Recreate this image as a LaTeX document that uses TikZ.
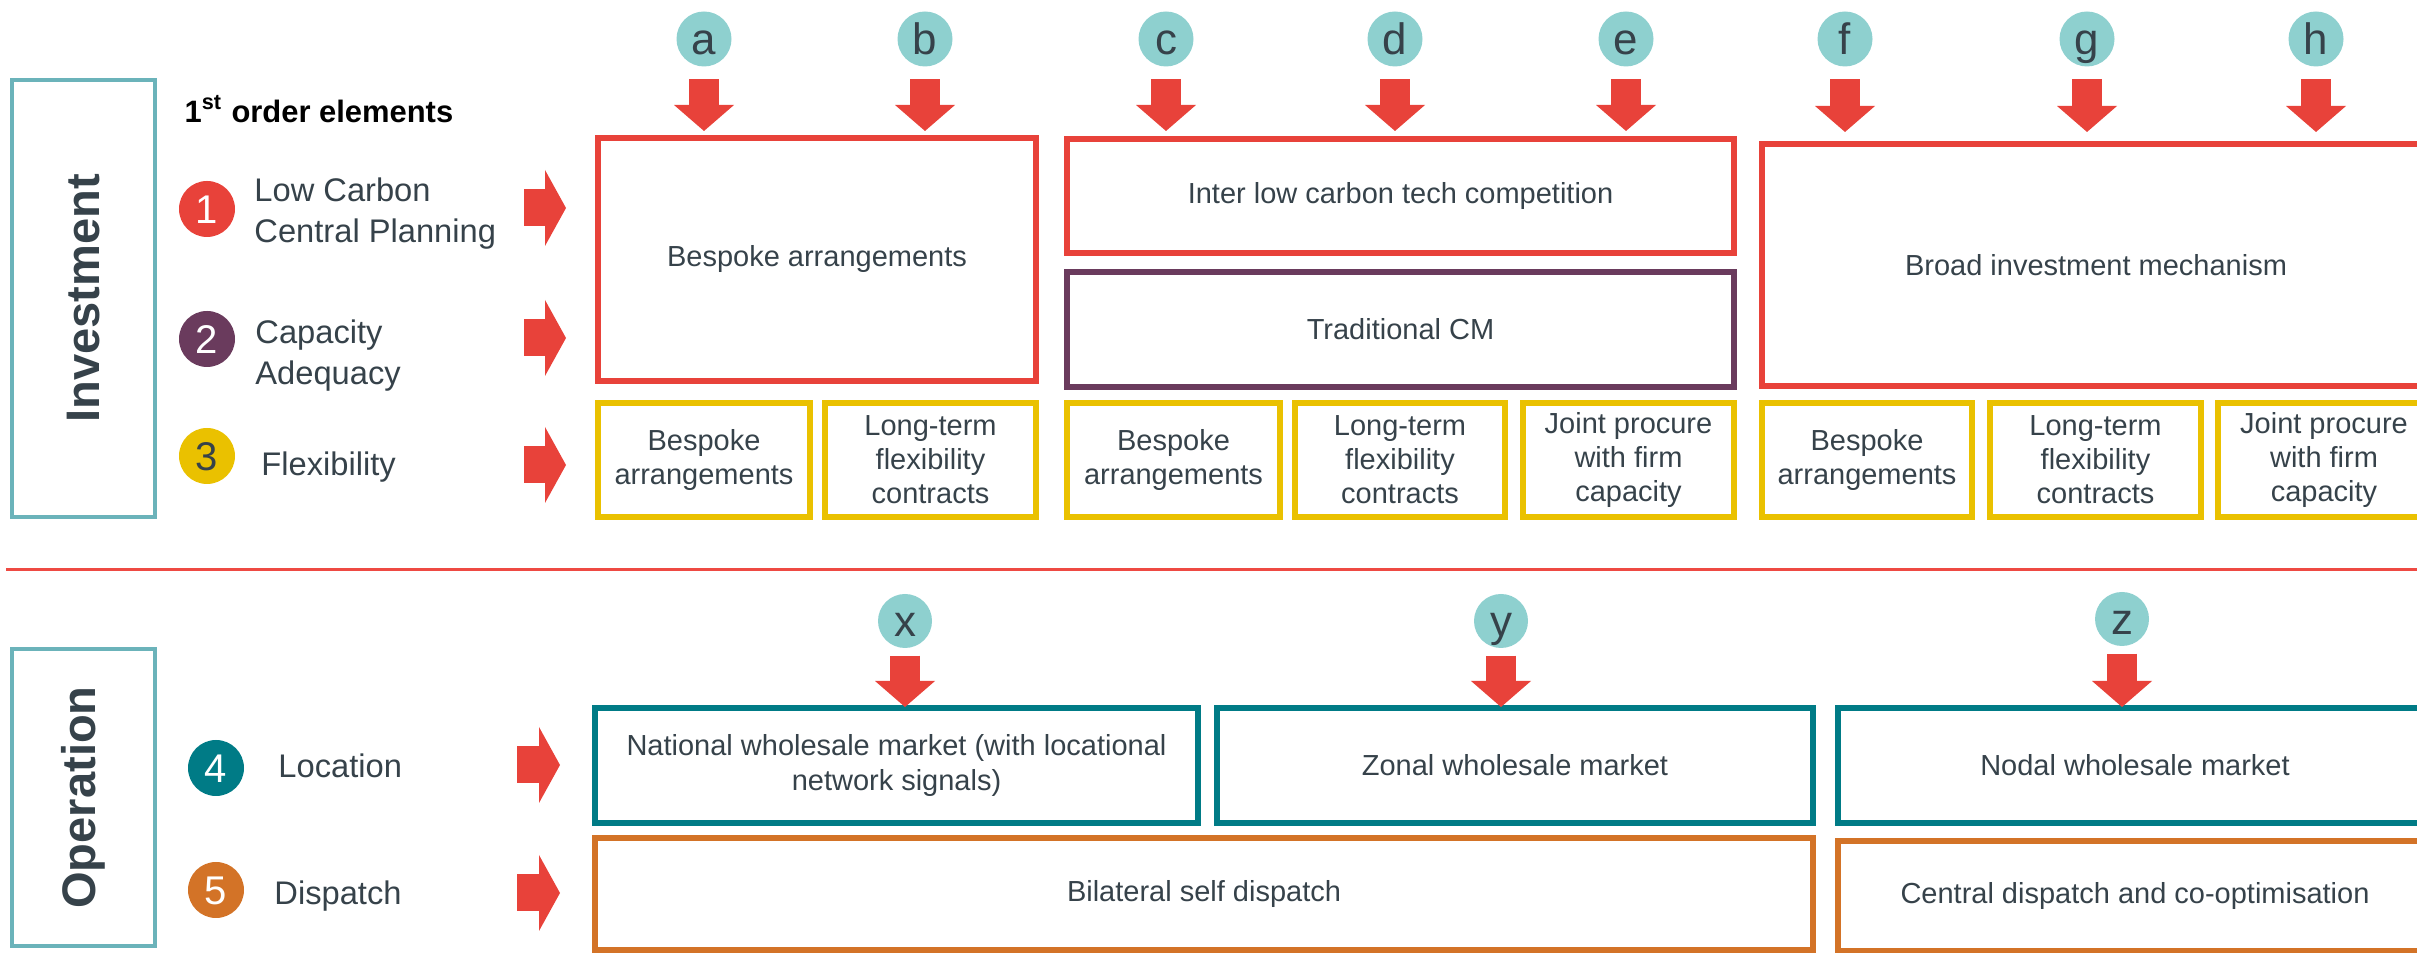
\documentclass[tikz,border=0pt]{standalone}
\usepackage{fontspec}
\setmainfont{Liberation Sans}
\usetikzlibrary{arrows.meta,positioning}

\definecolor{optred}{HTML}{E8423A}
\definecolor{optline}{HTML}{EE4A43}
\definecolor{optteal}{HTML}{6BB3BA}
\definecolor{optcyan}{HTML}{8ED0CF}
\definecolor{optplum}{HTML}{6A3B5D}
\definecolor{optgold}{HTML}{EAC100}
\definecolor{optpetrol}{HTML}{007B86}
\definecolor{optrust}{HTML}{D37327}
\definecolor{optink}{HTML}{36424A}

\begin{document}
\begin{tikzpicture}[
  x=0.1mm, y=-0.1mm,
  font=\fontsize{8.25}{9.7}\selectfont,
  text=optink,
  node distance=1.5mm,
  % option boxes
  cellbox/.style={draw, line width=0.55mm, align=center,
    inner sep=0pt, outer sep=0pt},
  redbox/.style={cellbox, draw=optred},
  cmbox/.style={cellbox, draw=optplum},
  flexbox/.style={cellbox, draw=optgold, minimum height=11.4mm},
  locbox/.style={cellbox, draw=optpetrol, minimum height=11.5mm},
  dispbox/.style={cellbox, draw=optrust},
  sectbox/.style={draw=optteal, line width=0.45mm, rotate=90,
    minimum height=14.3mm, inner sep=0pt,
    font=\bfseries\fontsize{13.4}{13.4}\selectfont},
  % markers and labels
  letter/.style={circle, fill=optcyan, minimum size=5.5mm, inner sep=0pt,
    text height=3.1mm, text depth=0pt,
    font=\fontsize{12.5}{12.5}\selectfont},
  numdot/.style={circle, minimum size=5.6mm, inner sep=0pt, text=white,
    text height=2.9mm, text depth=0pt,
    font=\fontsize{11.4}{11.4}\selectfont},
  element/.style={align=left, inner sep=0pt,
    font=\fontsize{9.3}{11.7}\selectfont},
  % block arrows
  downarrow/.style={optred, line width=3mm,
    -{Triangle[length=2.6mm, width=6mm, line width=0pt]},
    shorten <=1.2mm},
  sidearrow/.style={optred, line width=3.7mm,
    -{Triangle[length=2.1mm, width=7.6mm, line width=0pt]}},
  sepline/.style={optline, line width=0.33mm}
]
\useasboundingbox (0,0) rectangle (2417,953);
\clip (0,0) rectangle (2417,953);

% Section frames
\node[sectbox, minimum width=43.7mm] (inv) at (83.5,298.5) {Investment};
\node[sectbox, minimum width=29.7mm] (ops) at (83.5,797.5) {Operation};

\node[anchor=base west, inner sep=0pt, text=black,
  font=\bfseries\fontsize{8.8}{8.8}\selectfont] (order) at (184,123)
  {1\textsuperscript{st} order elements};

% First order elements
\node[numdot, fill=optred] (n1) at (207,209) {1};
\node[numdot, fill=optplum] (n2) at (207,339) {2};
\node[numdot, fill=optgold, text=optink] (n3) at (207,456) {3};
\node[numdot, fill=optpetrol] (n4) at (216,768) {4};
\node[numdot, fill=optrust] (n5) at (216,890) {5};

\node[element, right=1.8mm of n1, yshift=-0.5mm] (lowc) {Low Carbon\\Central Planning};
\node[element, right=1.9mm of n2, yshift=-1.7mm] (capa) {Capacity\\Adequacy};
\node[element, right=2.5mm of n3, yshift=-1.1mm] (flex) {Flexibility};
\node[element, right=3.3mm of n4, yshift=0.2mm] (loc) {Location};
\node[element, right=2.9mm of n5, yshift=-0.6mm] (disp) {Dispatch};

% Investment options
\node[redbox, minimum width=43.8mm, minimum height=24.3mm] (bsp) at (817,259.5)
  {Bespoke arrangements};
\node[flexbox, minimum width=21.2mm, below right=2.2mm and 0mm of bsp.south west] (f1)
  {Bespoke\\arrangements};
\node[flexbox, minimum width=21.1mm, right=1.5mm of f1] (f2)
  {Long-term\\flexibility\\contracts};

\node[redbox, minimum width=66.7mm, minimum height=11.4mm] (inter) at (1400.5,196)
  {Inter low carbon tech competition};
\node[cmbox, minimum width=66.7mm, minimum height=11.5mm, below=1.9mm of inter] (trad)
  {Traditional CM};
\node[flexbox, minimum width=21.3mm, below right=1.6mm and 0mm of trad.south west] (f3)
  {Bespoke\\arrangements};
\node[flexbox, minimum width=21mm, right=1.5mm of f3] (f4)
  {Long-term\\flexibility\\contracts};
\node[flexbox, minimum width=21.1mm, right=1.8mm of f4] (f5)
  {Joint procure\\with firm\\capacity};

\node[redbox, minimum width=66.8mm, minimum height=24.2mm] (broad) at (2096,265)
  {Broad investment mechanism};
\node[flexbox, minimum width=21mm, below right=1.7mm and 0mm of broad.south west] (f6)
  {Bespoke\\arrangements};
\node[flexbox, minimum width=21.1mm, right=1.8mm of f6] (f7)
  {Long-term\\flexibility\\contracts};
\node[flexbox, minimum width=21.2mm, right=1.7mm of f7] (f8)
  {Joint procure\\with firm\\capacity};

% Operation options
\node[locbox, minimum width=60.3mm] (nat) at (896.5,765.5)
  {National wholesale market (with locational\\network signals)};
\node[locbox, minimum width=59.6mm, right=1.9mm of nat] (zon) {Zonal wholesale market};
\node[locbox, minimum width=59.4mm, right=2.5mm of zon] (nod) {Nodal wholesale market};
\node[dispbox, minimum width=121.8mm, minimum height=11.2mm,
  below right=1.5mm and 0mm of nat.south west] (bil) {Bilateral self dispatch};
\node[dispbox, minimum width=59.4mm, minimum height=11mm, below=1.8mm of nod] (cen)
  {Central dispatch and co-optimisation};

% Option letters
\foreach \n/\x in {a/704, b/925, c/1166, d/1395, e/1626, f/1845, g/2087, h/2316}
  \node[letter] (l\n) at (\x,39) {\n};
\foreach \n/\x/\y in {x/905/621, y/1501/621, z/2122/619}
  \node[letter, minimum size=5.4mm] (l\n) at (\x,\y) {\n};

\foreach \n/\b/\s in {a/bsp/0.7, b/bsp/0.7, c/inter/0.8, d/inter/0.8, e/inter/0.8,
    f/broad/1.2, g/broad/1.2, h/broad/1.2}
  \draw[downarrow, shorten >=\s mm] (l\n) -- (l\n |- \b.north);
\foreach \n/\b in {x/nat, y/zon, z/nod}
  \draw[downarrow, shorten <=0.7mm, shorten >=0.1mm] (l\n) -- (l\n |- \b.north);

% Element arrows
\coordinate (s1) at (524,208);
\coordinate (s2) at (524,338);
\coordinate (s3) at (524,465);
\coordinate (s4) at (517,765);
\coordinate (s5) at (517,893);
\foreach \s/\b in {s1/bsp, s2/bsp, s3/f1}
  \draw[sidearrow, shorten >=3.2mm] (\s) -- (\s -| \b.west);
\foreach \s/\b in {s4/nat, s5/bil}
  \draw[sidearrow, shorten >=3.5mm] (\s) -- (\s -| \b.west);

% Divider
\draw[sepline] (6,569.5) -- (2417,569.5);
\end{tikzpicture}
\end{document}
